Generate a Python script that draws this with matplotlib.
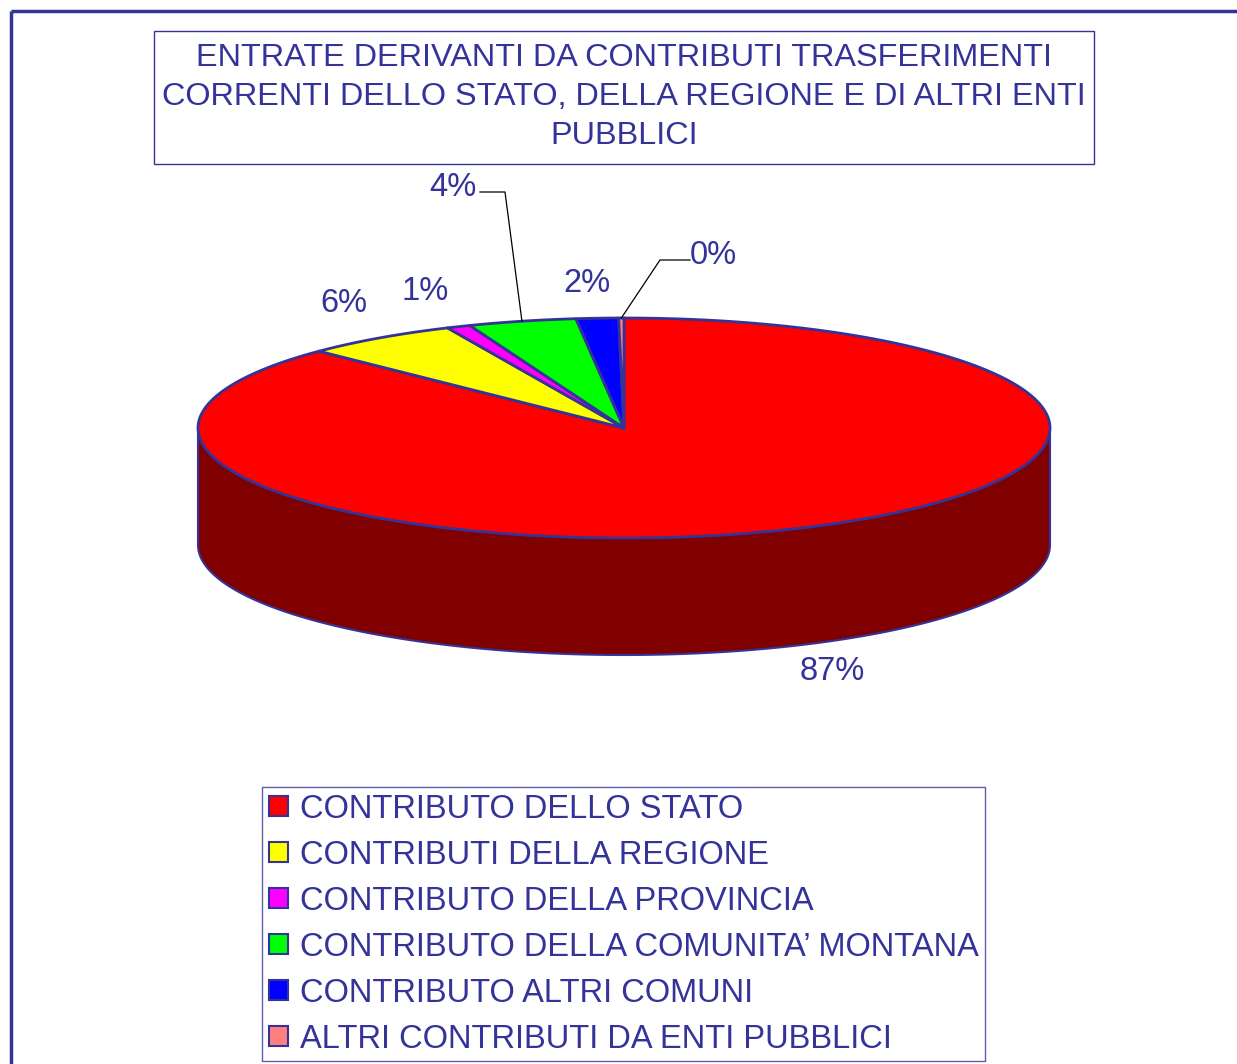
import numpy as np
import matplotlib.pyplot as plt
from matplotlib.patches import Polygon, Patch, Rectangle

plt.rcParams['font.family'] = ['Liberation Sans', 'DejaVu Sans']

# dati
categorie = ["CONTRIBUTO DELLO STATO", "CONTRIBUTI DELLA REGIONE", "CONTRIBUTO DELLA PROVINCIA",
             "CONTRIBUTO DELLA COMUNITA\u2019 MONTANA", "CONTRIBUTO ALTRI COMUNI",
             "ALTRI CONTRIBUTI DA ENTI PUBBLICI"]
valori = [87.3, 5.9, 0.9, 4.1, 1.6, 0.2]
colori = ["#ff0000", "#ffff00", "#ff00ff", "#00ff00", "#0000ff", "#ff8080"]
lati = ["#800000", "#808000", "#800080", "#008000", "#000080", "#804040"]
titolo = "ENTRATE DERIVANTI DA CONTRIBUTI TRASFERIMENTI\nCORRENTI DELLO STATO, DELLA REGIONE E DI ALTRI ENTI\nPUBBLICI"

BLU = "#333399"
W, H = 1237, 1064
fig = plt.figure(figsize=(W / 100, H / 100), dpi=100)
ax = fig.add_axes([0, 0, 1, 1])
ax.set_xlim(0, W)
ax.set_ylim(H, 0)
ax.axis('off')

# cornice esterna
ax.plot([11, W + 5], [11, 11], color=BLU, lw=2.5, solid_capstyle='butt')
ax.plot([11, 11], [11, H + 5], color=BLU, lw=2.5, solid_capstyle='butt')

# titolo
ax.add_patch(Rectangle((154, 31), 940, 133, fill=False, edgecolor=BLU, lw=1))
ax.text(624, 97, titolo, ha='center', va='center', color=BLU, fontsize=23.3, linespacing=1.37)

# torta 3D
cx, cy, a, b, d = 624, 428, 426, 110, 117
frac = np.array(valori) / sum(valori)
ang = 90 - 360 * np.concatenate([[0], np.cumsum(frac)])


def rim(t, dy=0):
    r = np.radians(t)
    return np.column_stack([cx + a * np.cos(r), cy - b * np.sin(r) + dy])


# lati (solo parte frontale, 180-360)
for i in range(len(valori)):
    t1, t2 = ang[i + 1], ang[i]
    for k in (-360, 0, 360):
        lo, hi = max(t1 + k, 180), min(t2 + k, 360)
        if hi > lo:
            t = np.linspace(lo, hi, 200)
            pts = np.vstack([rim(t), rim(t[::-1], d)])
            ax.add_patch(Polygon(pts, closed=True, facecolor=lati[i], edgecolor=BLU, lw=1.5,
                                 joinstyle='round'))

# facce superiori
for i in range(len(valori)):
    t = np.linspace(ang[i], ang[i + 1], 400)
    pts = np.vstack([[cx, cy], rim(t)])
    ax.add_patch(Polygon(pts, closed=True, facecolor=colori[i], edgecolor=BLU, lw=2,
                         joinstyle='round'))

# etichette
etichette = [f"{v:.0f}%" for v in valori]
pos_etichette = [(832, 672), (344, 304), (425, 292), (453, 188), (587, 283), (713, 256)]
for i, (lab, (x, y)) in enumerate(zip(etichette, pos_etichette)):
    ax.text(x, y, lab, ha='center', va='center', color=BLU, fontsize=23.5)

# linee guida per 4% e 0%
for i, (x0, x1) in [(3, (480, 505)), (5, (690, 660))]:
    mid = (ang[i] + ang[i + 1]) / 2
    px, py = rim(np.array([mid]))[0]
    y = pos_etichette[i][1] + 4
    ax.plot([x0, x1, px], [y, y, py], color='black', lw=0.9)

# legenda
handles = [Patch(facecolor=c, edgecolor=BLU, lw=1.5) for c in colori]
leg = fig.legend(handles, categorie, loc='upper left', bbox_to_anchor=(262 / W, 1 - 787 / H),
                 frameon=True, fancybox=False, edgecolor=BLU, fontsize=23.5, labelcolor=BLU,
                 handlelength=0.6, handleheight=0.6, handletextpad=0.35, labelspacing=0.46,
                 borderpad=0.2, borderaxespad=0)
leg.get_frame().set_linewidth(1)

fig.savefig("out.png", dpi=100)
